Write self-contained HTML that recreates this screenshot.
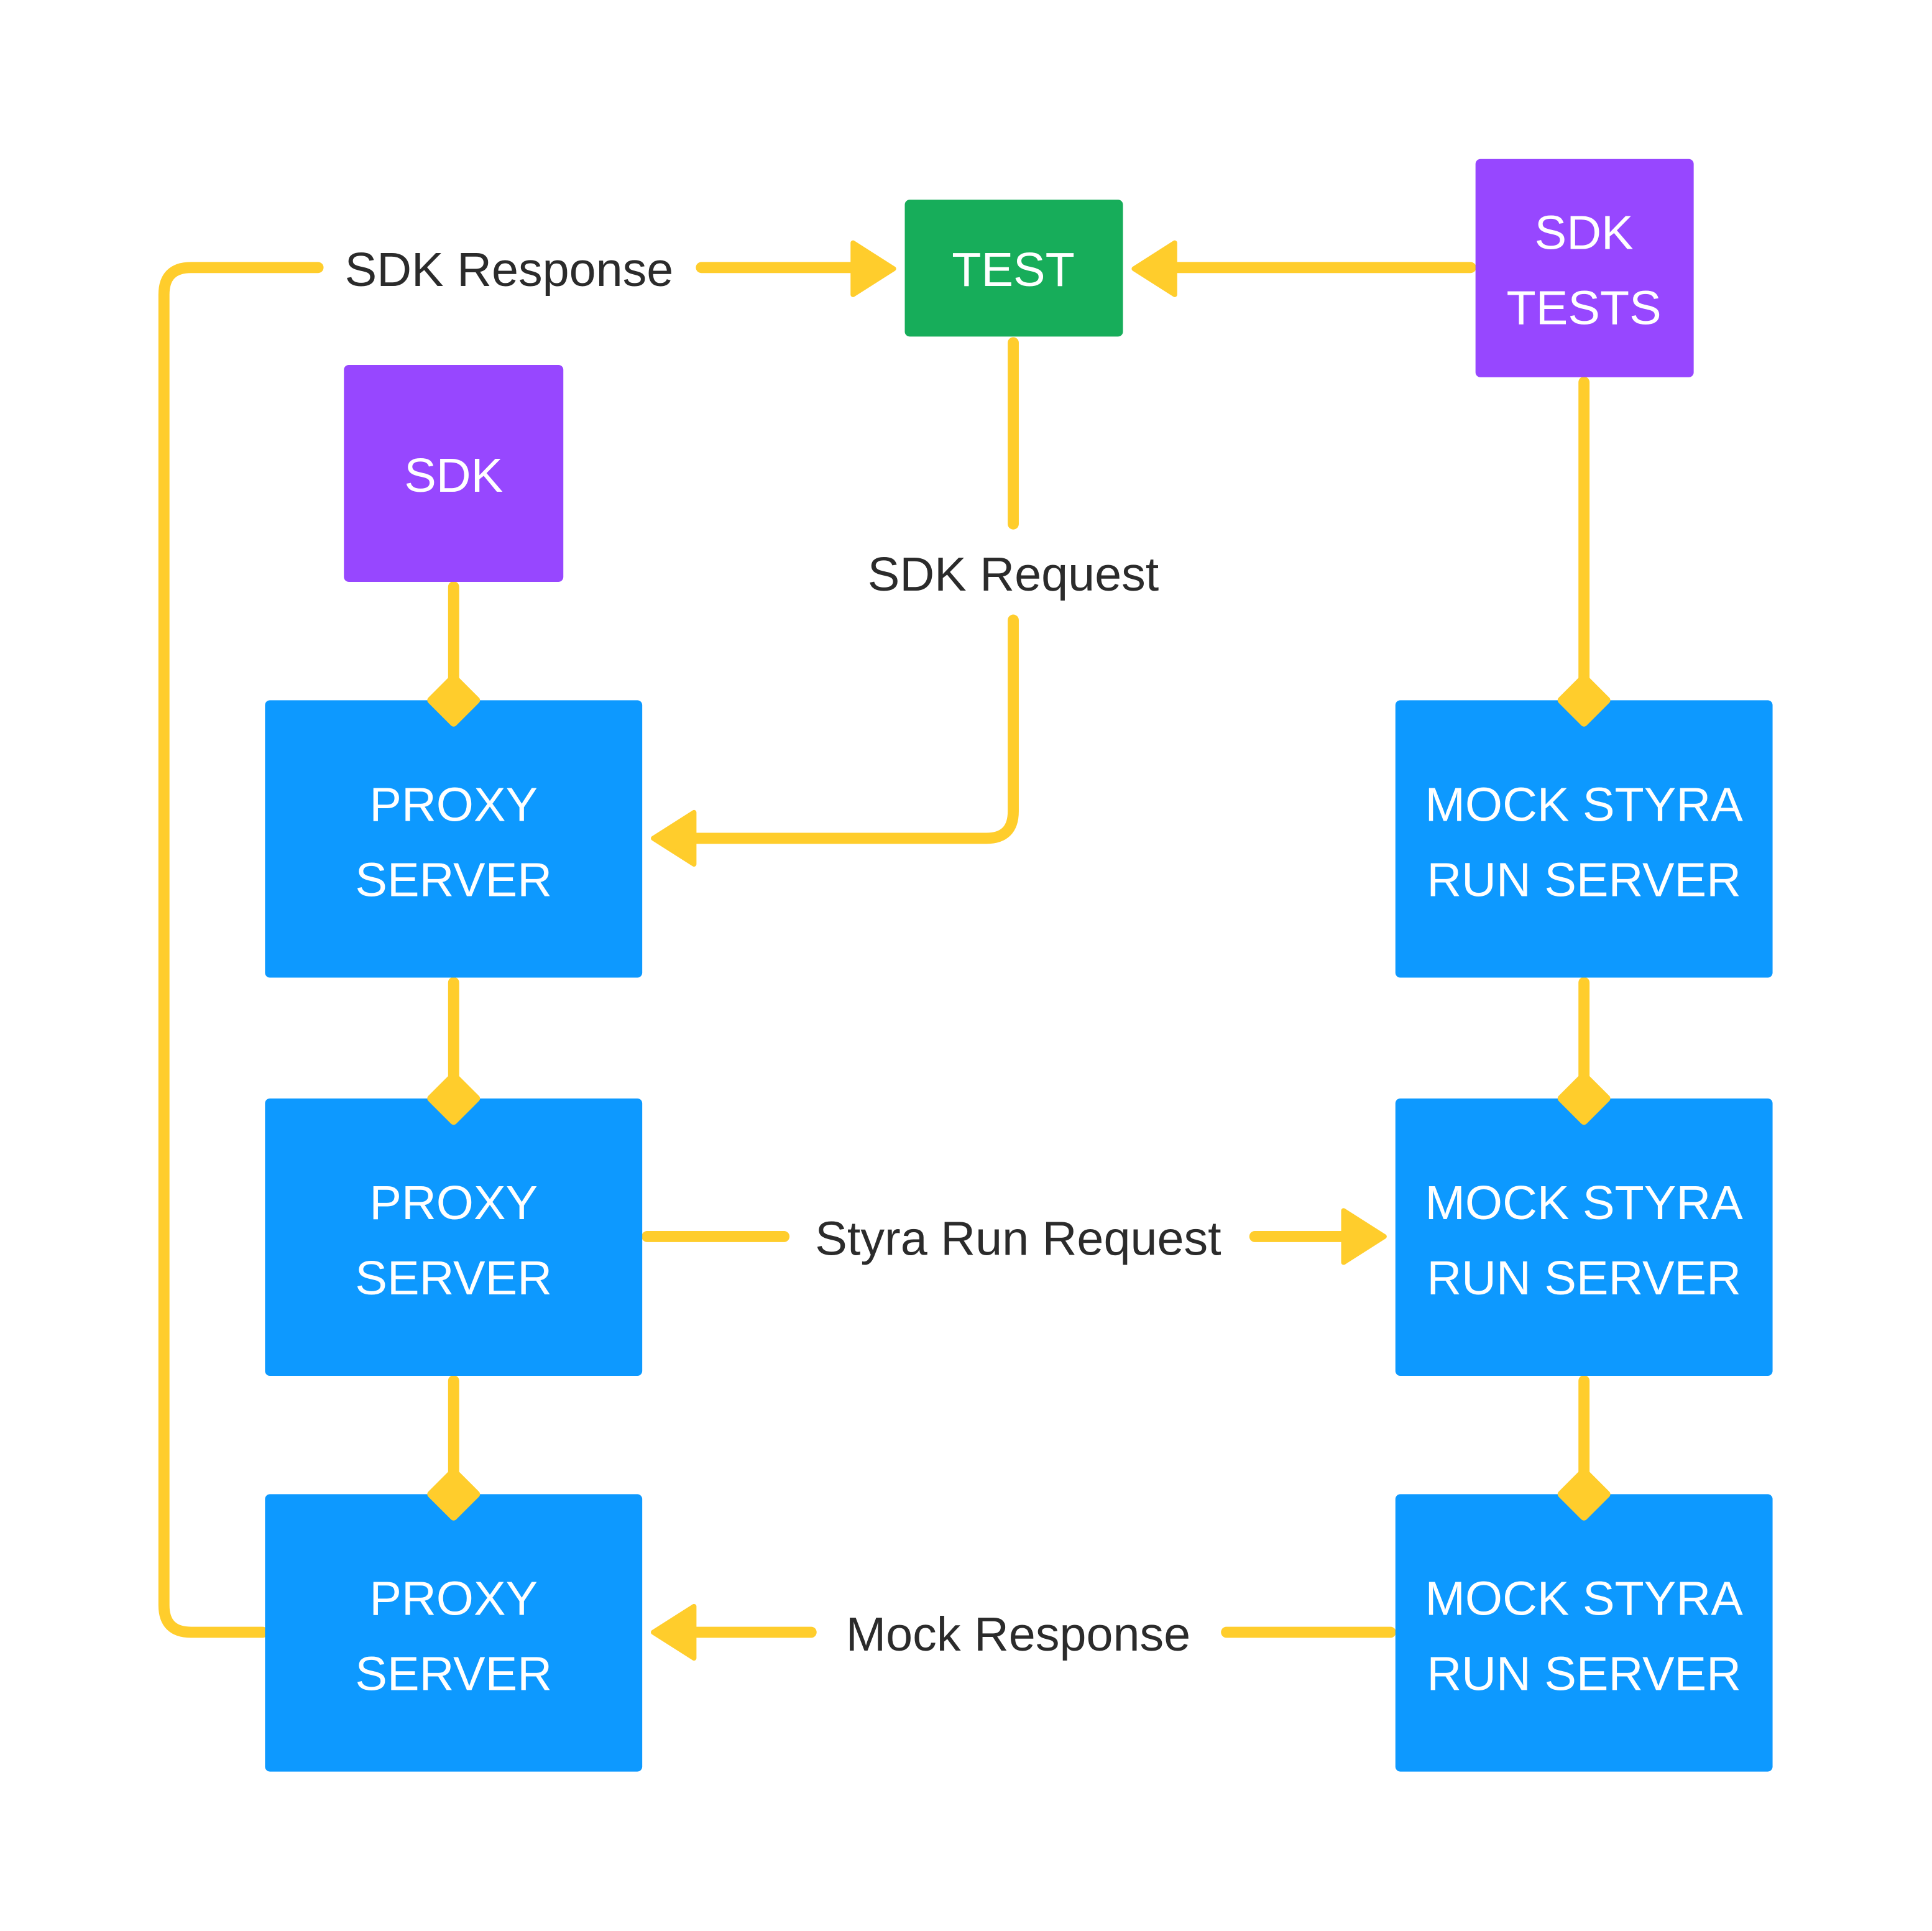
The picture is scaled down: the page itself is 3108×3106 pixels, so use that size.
<!DOCTYPE html>
<html><head><meta charset="utf-8"><style>
html,body{margin:0;padding:0;background:#fff}
svg{display:block}
text{font-family:"Liberation Sans",sans-serif}
</style></head><body>
<svg width="3108" height="3106" viewBox="0 0 1554 1553" xmlns="http://www.w3.org/2000/svg">
<rect width="1554" height="1553" fill="#fff"/>
<g transform="scale(0.9915)">
<g stroke="#ffcd2c" stroke-width="9" fill="none" stroke-linecap="round">
<path d="M213 1324 H155 Q133 1324 133 1302 V239 Q133 217 155 217 H258"/>
<path d="M569 217 H695"/>
<path d="M1193 217 H950"/>
<path d="M822 278 V425"/>
<path d="M822 503 V658 Q822 680 800 680 H560"/>
<path d="M368 476 V555"/>
<path d="M1285 310 V555"/>
<path d="M368 797 V875"/>
<path d="M368 1120 V1195"/>
<path d="M1285 797 V875"/>
<path d="M1285 1120 V1195"/>
<path d="M525 1003 H636"/>
<path d="M1018 1003 H1093"/>
<path d="M1128 1324 H995"/>
<path d="M658 1324 H560"/>
</g>
<g fill="#ffcd2c" stroke="#ffcd2c" stroke-width="4" stroke-linejoin="round">
<polygon points="725,218 692,197 692,239"/>
<polygon points="920,218 953,197 953,239"/>
<polygon points="530,680 563,659 563,701"/>
<polygon points="1123,1003 1090,982 1090,1024"/>
<polygon points="530,1324 563,1303 563,1345"/>
</g>
<rect x="734" y="162" width="177" height="111" rx="4" fill="#17ad5a"/>
<rect x="1197" y="129" width="177" height="177" rx="4" fill="#9747ff"/>
<rect x="279" y="296" width="178" height="176" rx="4" fill="#9747ff"/>
<g fill="#0d99ff">
<rect x="215" y="568" width="306" height="225" rx="4"/>
<rect x="215" y="891" width="306" height="225" rx="4"/>
<rect x="215" y="1212" width="306" height="225" rx="4"/>
<rect x="1132" y="568" width="306" height="225" rx="4"/>
<rect x="1132" y="891" width="306" height="225" rx="4"/>
<rect x="1132" y="1212" width="306" height="225" rx="4"/>
</g>
<g fill="#ffcd2c">
<rect x="352" y="552" width="32" height="32" rx="3" transform="rotate(45 368 568)"/>
<rect x="1269" y="552" width="32" height="32" rx="3" transform="rotate(45 1285 568)"/>
<rect x="352" y="875" width="32" height="32" rx="3" transform="rotate(45 368 891)"/>
<rect x="1269" y="875" width="32" height="32" rx="3" transform="rotate(45 1285 891)"/>
<rect x="352" y="1196" width="32" height="32" rx="3" transform="rotate(45 368 1212)"/>
<rect x="1269" y="1196" width="32" height="32" rx="3" transform="rotate(45 1285 1212)"/>
</g>
<g fill="#fff" font-size="39" text-anchor="middle">
<text x="822" y="232">TEST</text>
<text x="1285" y="202">SDK</text>
<text x="1285" y="263">TESTS</text>
<text x="368" y="399">SDK</text>
<text x="368" y="666">PROXY</text><text x="368" y="727">SERVER</text>
<text x="368" y="989">PROXY</text><text x="368" y="1050">SERVER</text>
<text x="368" y="1310">PROXY</text><text x="368" y="1371">SERVER</text>
<text x="1285" y="666">MOCK STYRA</text><text x="1285" y="727">RUN SERVER</text>
<text x="1285" y="989">MOCK STYRA</text><text x="1285" y="1050">RUN SERVER</text>
<text x="1285" y="1310">MOCK STYRA</text><text x="1285" y="1371">RUN SERVER</text>
</g>
<g fill="#2b2b2b" font-size="39" text-anchor="middle">
<text x="413" y="232">SDK Response</text>
<text x="822" y="479">SDK Request</text>
<text x="826" y="1018">Styra Run Request</text>
<text x="826" y="1339">Mock Response</text>
</g>
</g>
</svg>
</body></html>
